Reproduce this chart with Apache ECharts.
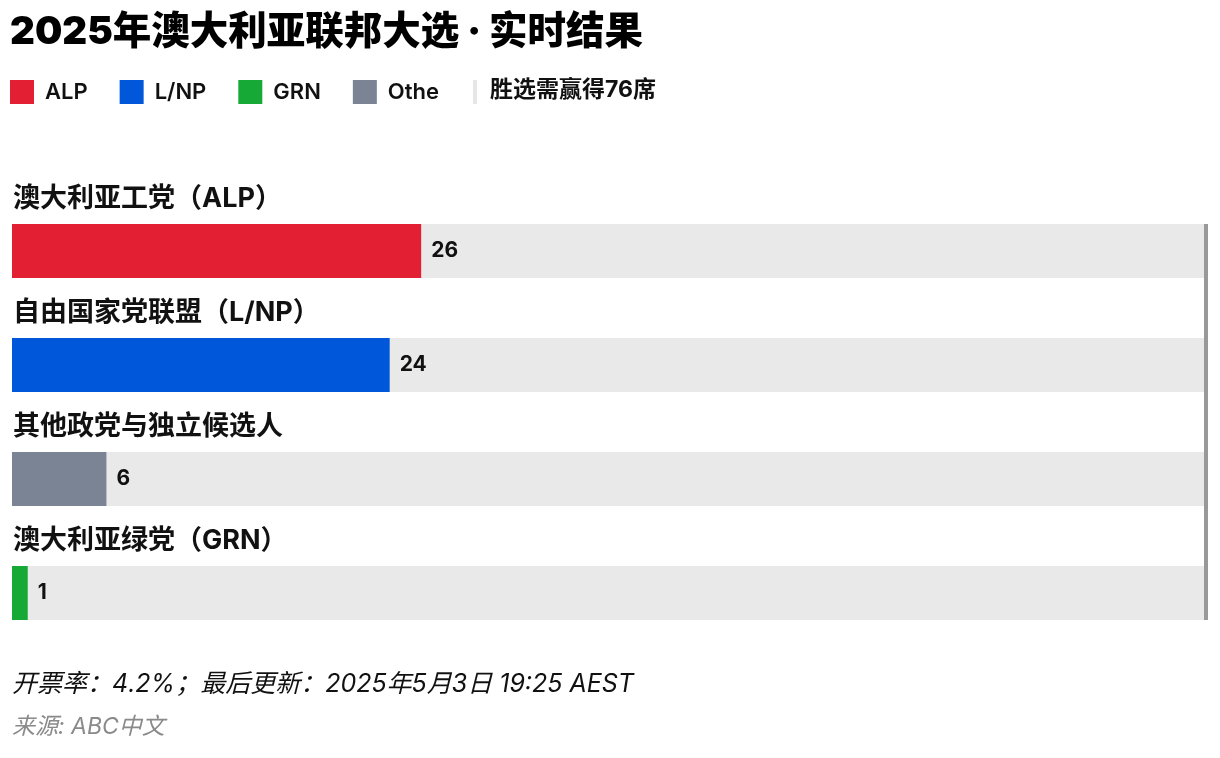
<!DOCTYPE html>
<html>
<head>
<meta charset="utf-8">
<script src="https://cdn.jsdelivr.net/npm/echarts@6/dist/echarts.min.js"></script>
<style>
  html, body { margin: 0; padding: 0; background: #fff; }
  #chart { width: 1220px; height: 758px; }
</style>
</head>
<body>
<div id="chart"></div>
<script>
const FONT = "Inter, 'Noto Sans CJK SC', sans-serif";

// data
const categories = ['澳大利亚工党（ALP）', '自由国家党联盟（L/NP）', '其他政党与独立候选人', '澳大利亚绿党（GRN）'];
const partyCodes = ['ALP', 'L/NP', 'Other', 'GRN'];
const seats = [26, 24, 6, 1];
const partyColors = ['#e31f33', '#0057d9', '#7b8495', '#17a935'];
const legendOrder = ['ALP', 'L/NP', 'GRN', 'Other'];
const majority = 76;

const chart = echarts.init(document.getElementById('chart'));

const BAR_H = 54;

// one series per party so the legend picks up the colours
const barSeries = partyCodes.map((code, i) => ({
  name: code,
  type: 'bar',
  stack: 'seats',
  barWidth: BAR_H,
  data: seats.map((v, j) => (j === i ? v : '-')),
  itemStyle: { color: partyColors[i] },
  showBackground: true,
  backgroundStyle: { color: '#e9e9e9' },
  label: {
    show: true,
    position: 'right',
    distance: 10,
    fontFamily: FONT,
    fontSize: 21,
    fontWeight: 'bold',
    color: '#111'
  },
  silent: true
}));

// threshold marker at the majority line, spanning the bars
const thresholdSeries = {
  type: 'custom',
  silent: true,
  z: 5,
  data: [[majority, 0]],
  encode: { x: 0, y: 1 },
  renderItem: (params, api) => {
    const top = api.coord([api.value(0), 0]);
    const bottom = api.coord([api.value(0), categories.length - 1]);
    return {
      type: 'rect',
      shape: {
        x: top[0] - 4,
        y: top[1] - BAR_H / 2,
        width: 4,
        height: bottom[1] - top[1] + BAR_H
      },
      style: { fill: '#999' }
    };
  }
};

const option = {
  animation: false,
  backgroundColor: '#fff',
  title: {
    text: '2025年澳大利亚联邦大选 · 实时结果',
    left: 5,
    top: 8,
    textStyle: { fontFamily: FONT, fontSize: 38.5, fontWeight: 900, color: '#000' }
  },
  legend: {
    data: legendOrder,
    left: 5,
    top: 75,
    icon: 'rect',
    itemWidth: 24,
    itemHeight: 24,
    itemGap: 32,
    selectedMode: false,
    textStyle: {
      fontFamily: FONT,
      fontSize: 22,
      fontWeight: 600,
      color: '#111',
      padding: [0, 0, 0, 6],
      width: 58,
      overflow: 'truncate',
      ellipsis: ''
    }
  },
  grid: { left: 12, right: 12, top: 194, bottom: 108 },
  xAxis: {
    type: 'value',
    min: 0,
    max: majority,
    show: false
  },
  yAxis: {
    type: 'category',
    data: categories,
    inverse: true,
    axisLine: { show: false },
    axisTick: { show: false },
    splitLine: { show: false },
    axisLabel: {
      inside: true,
      margin: 1,
      align: 'left',
      verticalAlign: 'bottom',
      padding: [0, 0, 39, 0],
      fontFamily: FONT,
      fontSize: 27,
      fontWeight: 'bold',
      color: '#111'
    }
  },
  graphic: [
    { type: 'rect', left: 473, top: 80, shape: { width: 4, height: 24 }, style: { fill: '#e6e6e6' } },
    { type: 'text', left: 490, top: 79, style: { text: '胜选需赢得' + majority + '席', font: `bold 23px ${FONT}`, fill: '#111' } },
    { type: 'text', left: 12, top: 672, style: { text: '开票率：4.2%；最后更新：2025年5月3日 19:25 AEST', font: `italic 25px ${FONT}`, fill: '#111' } },
    { type: 'text', left: 12, top: 716, style: { text: '来源: ABC中文', font: `italic 23px ${FONT}`, fill: '#8a8a8a' } }
  ],
  series: [...barSeries, thresholdSeries]
};

chart.setOption(option);
</script>
</body>
</html>
